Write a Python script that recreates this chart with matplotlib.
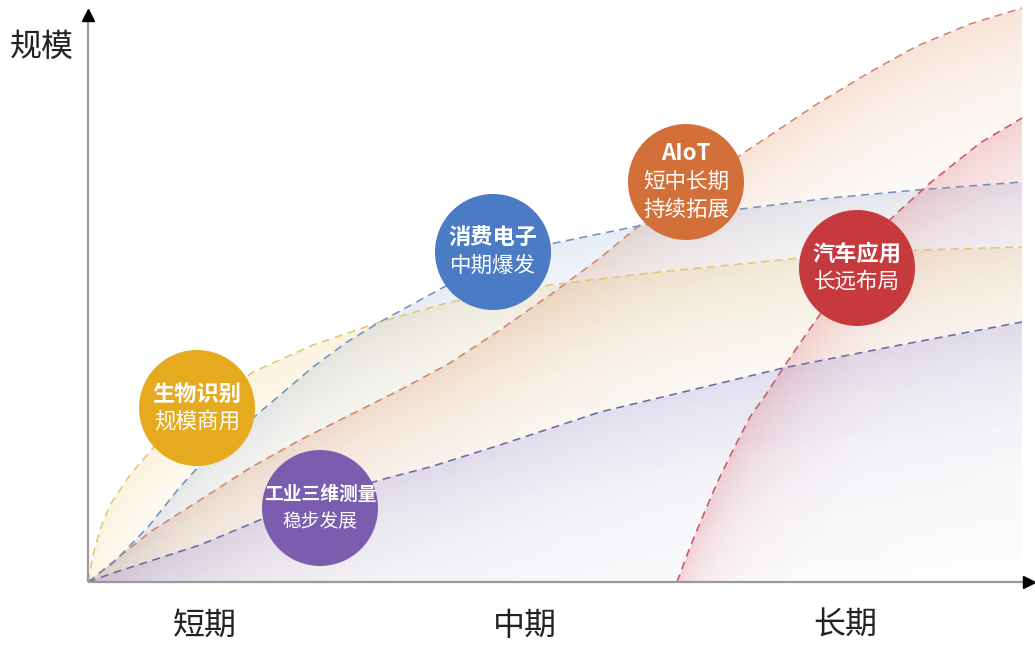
import matplotlib
matplotlib.use("Agg")
import matplotlib.pyplot as plt
import numpy as np
from matplotlib.colors import to_rgb
from matplotlib.patches import Circle

plt.rcParams["font.family"] = ["Noto Sans CJK SC", "DejaVu Sans"]

# curves (x = time, y = scale, in pixel-ish units)
yellow_x = [0, 5, 12, 22, 42, 72, 102, 130, 165, 225, 292, 362, 462, 562, 712, 832, 934]
yellow_y = [0, 27, 52, 77, 107, 142, 164, 185, 210, 237, 260, 280, 297, 309, 324, 332, 335]

blue_x = [0, 25, 60, 92, 125, 159, 192, 225, 259, 292, 312, 345, 402, 462, 545, 645, 742, 829, 934]
blue_y = [0, 19, 55, 95, 131, 159, 187, 215, 240, 260, 271, 289, 320, 338, 355, 372, 384, 392, 400]

orange_x = [0, 62, 112, 162, 212, 262, 312, 362, 412, 462, 512, 552, 602, 657, 729, 782, 829, 882, 934]
orange_y = [0, 50, 82, 114, 142, 167, 192, 219, 252, 287, 324, 357, 392, 430, 478, 510, 536, 558, 574]

purple_x = [0, 25, 112, 179, 292, 342, 412, 512, 612, 695, 812, 934]
purple_y = [0, 9, 37, 65, 102, 115, 137, 170, 194, 214, 237, 260]

red_x = [589, 599, 609, 629, 645, 662, 679, 695, 719, 742, 775, 809, 842, 892, 934]
red_y = [0, 27, 52, 99, 132, 165, 189, 214, 249, 282, 336, 369, 399, 439, 464]

line_colors = {"yellow": "#E3C679", "blue": "#7391C2", "orange": "#CF876A",
               "purple": "#6A6CA3", "red": "#C65A66"}
fill_colors = {"yellow": "#F2C14E", "blue": "#6A8CC4", "orange": "#E08A55",
               "purple": "#8484E0", "red": "#D9545E"}

# bubbles: label lines, centre, colour
bubble_titles = ["生物识别", "工业三维测量", "消费电子", "AIoT", "汽车应用"]
bubble_subs = [["规模商用"], ["稳步发展"], ["中期爆发"], ["短中长期", "持续拓展"], ["长远布局"]]
bubble_x = [109, 232, 405, 598, 769]
bubble_y = [174, 74, 330, 400, 314]
bubble_colors = ["#E5AA1E", "#7A5DAE", "#4A7BC4", "#D3703A", "#C63A3D"]

period_labels = ["短期", "中期", "长期"]
period_pos = [117, 437, 757]


def gradient_fill(ax, xs, ys, color, a0, scale, z):
    gx = np.arange(xs[0], xs[-1] + 1)
    gy = np.arange(0, max(ys) + 1)
    cy = np.interp(gx, xs, ys)
    d = cy[None, :] - gy[:, None]
    alpha = np.where(d >= 0, a0 * np.exp(-np.clip(d, 0, None) / scale), 0.0)
    img = np.zeros((len(gy), len(gx), 4))
    img[..., :3] = to_rgb(color)
    img[..., 3] = alpha
    ax.imshow(img, extent=(gx[0], gx[-1], gy[0], gy[-1]), origin="lower",
              interpolation="bilinear", aspect="auto", zorder=z)


fig = plt.figure(figsize=(10.35, 6.46), dpi=100)
ax = fig.add_axes([0, 0, 1, 1])
ax.set_xlim(-88, 947)
ax.set_ylim(-64, 582)
ax.axis("off")

series = [("orange", orange_x, orange_y, 0.24, 85),
          ("yellow", yellow_x, yellow_y, 0.19, 80),
          ("blue", blue_x, blue_y, 0.17, 65),
          ("purple", purple_x, purple_y, 0.22, 95),
          ("red", red_x, red_y, 0.24, 80)]
for i, (name, xs, ys, a0, sc) in enumerate(series):
    gradient_fill(ax, xs, ys, fill_colors[name], a0, sc, 1 + i * 0.1)
for name, xs, ys, a0, sc in series:
    ax.plot(xs, ys, color=line_colors[name], lw=1.15, dashes=(5, 3.5), zorder=3)

# axes with arrows
ax.plot([0, 940], [0, 0], color="#9A9A9A", lw=1.6, zorder=4, solid_capstyle="butt")
ax.plot([0, 0], [0, 566], color="#9A9A9A", lw=1.6, zorder=4, solid_capstyle="butt")
ax.plot([941], [0], marker=">", color="black", ms=9, zorder=5)
ax.plot([0], [567], marker="^", color="black", ms=9, zorder=5)

ax.text(-46, 535, "规模", fontsize=23, ha="center", va="center", color="#222222")
for lab, px in zip(period_labels, period_pos):
    ax.text(px, -44, lab, fontsize=23, ha="center", va="center", color="#222222")

for title, subs, bx, by, col in zip(bubble_titles, bubble_subs, bubble_x, bubble_y, bubble_colors):
    ax.add_patch(Circle((bx, by), 58, facecolor=col, edgecolor="none", zorder=6))
    lines = [title] + subs
    n = len(lines)
    step = 27 if n == 2 else 28
    size = 13.5 if len(title) > 4 else 16
    for k, txt in enumerate(lines):
        off = (n - 1) / 2 * step - k * step
        ax.text(bx, by + off, txt, fontsize=size if k == 0 else (size if len(title) > 4 else 15.5),
                fontweight="bold" if k == 0 else "normal", color="white",
                ha="center", va="center", zorder=7)

fig.savefig("out.png", dpi=100)
